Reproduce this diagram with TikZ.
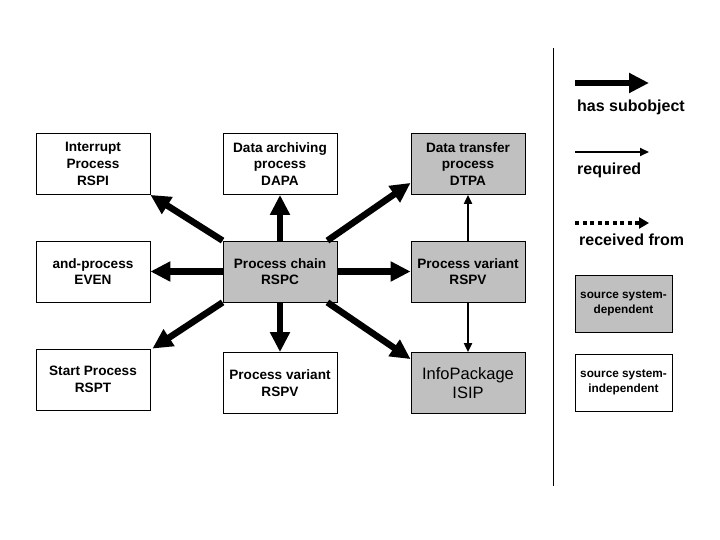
\documentclass[tikz,border=0pt]{standalone}
\usepackage{fontspec}
\setmainfont{Liberation Sans}
\usetikzlibrary{arrows.meta}
\definecolor{boxgray}{RGB}{192,192,192}

\begin{document}
\begin{tikzpicture}[x=1pt, y=-1pt]
        % ================= styles =================
        \tikzset{
            % white process box
            pbox/.style={draw=black, line width=0.8pt, fill=white, minimum width=114pt, minimum height=61pt,
                inner sep=2pt, align=center, font=\fontsize{13.6}{16.7}\selectfont\bfseries},
            % grey (source system dependent) box
            gbox/.style={pbox, fill=boxgray},
            % small legend box
            lbox/.style={draw=black, line width=0.8pt, minimum width=97pt, minimum height=57pt,
                inner sep=2pt, align=center, font=\fontsize{11.8}{15}\selectfont\bfseries},
            % thick arrow: has subobject
            sub_arrow/.style={line width=6.5pt, -{Triangle[length=20pt, width=19pt]}},
            % thin arrow: required
            req_arrow/.style={line width=2pt, -{Triangle[length=9pt, width=8pt]}},
            % dotted arrow: received from
            rec_arrow/.style={line width=3.5pt, dash pattern=on 4pt off 3.5pt, -{Triangle[length=10pt, width=11pt]}},
            legtext/.style={anchor=west, inner sep=0pt, font=\fontsize{16}{18}\selectfont\bfseries}
        }
        \useasboundingbox (0,0) rectangle (720,540);

        % ================= boxes =================
        \node[pbox] (rspi) at (93,164) {Interrupt\\Process\\RSPI};
        \node[pbox] (dapa) at (280,164) {Data archiving\\process\\DAPA};
        \node[gbox] (dtpa) at (468,164) {Data transfer\\process\\DTPA};

        \node[pbox] (even) at (93,271.5) {and-process\\EVEN};
        \node[gbox] (rspc) at (280,271.5) {Process chain\\RSPC};
        \node[gbox] (rspv_r) at (468,271.5) {Process variant\\RSPV};

        \node[pbox] (rspt) at (93,379.5) {Start Process\\RSPT};
        \node[pbox] (rspv_b) at (280,383) {Process variant\\RSPV};
        \node[gbox, font=\fontsize{16.5}{19}\selectfont] (isip) at (468,383) {InfoPackage\\ISIP};

        % ================= arrows =================
        \draw[sub_arrow] (rspc.north west) -- (rspi.south east);
        \draw[sub_arrow] (rspc.north) -- (dapa.south);
        \draw[sub_arrow] ([xshift=-10pt]rspc.north east) -- ([yshift=12pt]dtpa.south west);
        \draw[sub_arrow] (rspc.west) -- (even.east);
        \draw[sub_arrow] (rspc.east) -- (rspv_r.west);
        \draw[sub_arrow] (rspc.south west) -- ([xshift=2pt]rspt.north east);
        \draw[sub_arrow] (rspc.south) -- (rspv_b.north);
        \draw[sub_arrow] ([xshift=-10pt]rspc.south east) -- ([yshift=-7pt]isip.north west);

        \draw[req_arrow] (rspv_r.north) -- (dtpa.south);
        \draw[req_arrow] (rspv_r.south) -- (isip.north);

        % ================= legend =================
        \coordinate (sep_top) at (553,48);
        \coordinate (sep_bot) at (553,486);
        \draw[line width=1pt] (sep_top) -- (sep_bot);

        \coordinate (sub_a) at (575,83);
        \coordinate (sub_b) at (649,83);
        \draw[sub_arrow] (sub_a) -- (sub_b);
        \node[legtext] (sub_txt) at (577,107) {has subobject};

        \coordinate (req_a) at (575,152);
        \coordinate (req_b) at (649,152);
        \draw[req_arrow] (req_a) -- (req_b);
        \node[legtext] (req_txt) at (577,170) {required};

        \coordinate (rec_a) at (575,223);
        \coordinate (rec_b) at (649,223);
        \draw[rec_arrow] (rec_a) -- (rec_b);
        \node[legtext] (rec_txt) at (579,239.5) {received from};

        \node[lbox, fill=boxgray] (dep) at (623.5,303.5) {source system-\\dependent};
        \node[lbox, fill=white] (indep) at (623.5,382.5) {source system-\\independent};

    \end{tikzpicture}
\end{document}
